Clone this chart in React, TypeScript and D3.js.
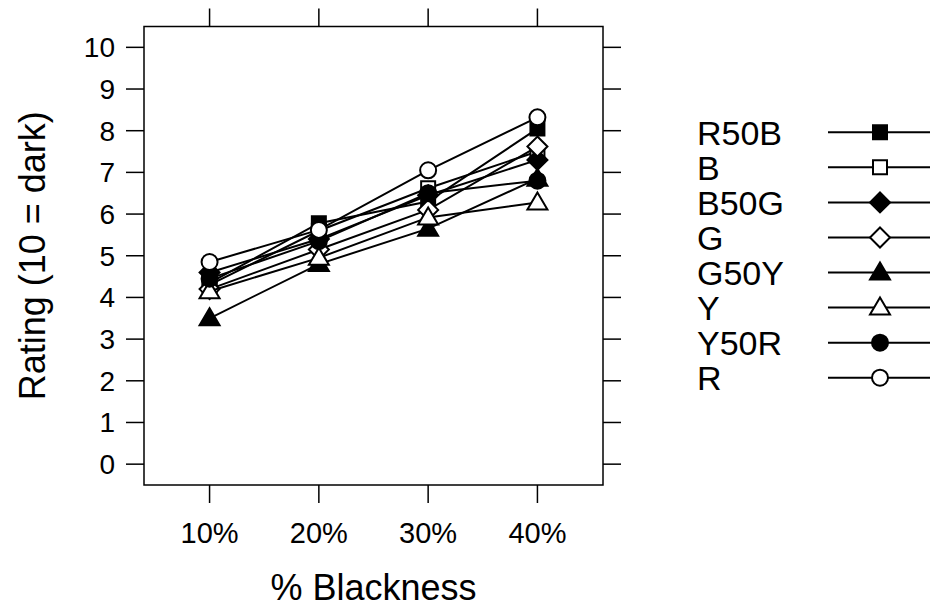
import React, { useEffect, useRef } from 'react';
import * as d3 from 'd3';

const categories = ['10%', '20%', '30%', '40%'];
const yTicks = [0, 1, 2, 3, 4, 5, 6, 7, 8, 9, 10];

const seriesNames = ['R50B', 'B', 'B50G', 'G', 'G50Y', 'Y', 'Y50R', 'R'];
const R50B = [4.35, 5.78, 6.3, 8.05];
const B = [4.3, 5.6, 6.62, 7.5];
const B50G = [4.6, 5.4, 6.45, 7.3];
const G = [4.2, 5.15, 6.1, 7.62];
const G50Y = [3.5, 4.8, 5.65, 6.85];
const Y = [4.15, 4.95, 5.92, 6.28];
const Y50R = [4.45, 5.35, 6.5, 6.8];
const R = [4.85, 5.62, 7.05, 8.32];
const seriesValues = [R50B, B, B50G, G, G50Y, Y, Y50R, R];
const shapes = ['square', 'square', 'diamond', 'diamond', 'triangle', 'triangle', 'circle', 'circle'];
const filled = [true, false, true, false, true, false, true, false];

const symbolPath = (shape: string) => {
    if (shape === 'square') return 'M-7,-7H7V7H-7Z';
    if (shape === 'diamond') return 'M0,-10L10,0L0,10L-10,0Z';
    if (shape === 'triangle') return 'M0,-10L10,7L-10,7Z';
    return d3.arc()({ innerRadius: 0, outerRadius: 8, startAngle: 0, endAngle: 2 * Math.PI } as any) as string;
};

const App = () => {
    const ref = useRef<SVGSVGElement>(null);
    useEffect(() => {
        const svg = d3.select(ref.current);
        svg.selectAll('*').remove();
        const box = { left: 144, right: 603, top: 26.5, bottom: 485 };
        const font = 'Liberation Sans, Arial, sans-serif';

        const x = d3.scaleLinear().domain([0.4, 4.6]).range([box.left, box.right]);
        const y = d3.scaleLinear().domain([-0.5, 10.5]).range([box.bottom, box.top]);
        const tick = 18;

        // ticks
        const g = svg.append('g').attr('stroke', '#000').attr('stroke-width', 1.5);
        categories.forEach((c, i) => {
            g.append('line').attr('x1', x(i + 1)).attr('x2', x(i + 1)).attr('y1', box.bottom).attr('y2', box.bottom + tick);
            g.append('line').attr('x1', x(i + 1)).attr('x2', x(i + 1)).attr('y1', box.top).attr('y2', box.top - tick);
        });
        yTicks.forEach(v => {
            g.append('line').attr('x1', box.left).attr('x2', box.left - tick).attr('y1', y(v)).attr('y2', y(v));
            g.append('line').attr('x1', box.right).attr('x2', box.right + tick).attr('y1', y(v)).attr('y2', y(v));
        });
        g.append('rect')
            .attr('x', box.left).attr('y', box.top)
            .attr('width', box.right - box.left).attr('height', box.bottom - box.top)
            .attr('fill', 'none');

        // tick labels
        svg.append('g').selectAll('text').data(categories).join('text')
            .attr('x', (d, i) => x(i + 1)).attr('y', 543)
            .attr('text-anchor', 'middle')
            .attr('font-family', font).attr('font-size', 29)
            .text(d => d);
        svg.append('g').selectAll('text').data(yTicks).join('text')
            .attr('x', 115).attr('y', d => y(d) + 10)
            .attr('text-anchor', 'end')
            .attr('font-family', font).attr('font-size', 28)
            .text(d => d);

        // axis titles
        svg.append('text')
            .attr('x', (box.left + box.right) / 2).attr('y', 600)
            .attr('text-anchor', 'middle')
            .attr('font-family', font).attr('font-size', 36)
            .text('% Blackness');
        svg.append('text')
            .attr('transform', `translate(45, ${(box.top + box.bottom) / 2}) rotate(-90)`)
            .attr('text-anchor', 'middle')
            .attr('font-family', font).attr('font-size', 36)
            .text('Rating (10 = dark)');

        // series
        const line = d3.line<number>().x((d, i) => x(i + 1)).y(d => y(d));
        seriesValues.forEach((vals, s) => {
            const sg = svg.append('g');
            sg.append('path').attr('d', line(vals)).attr('fill', 'none').attr('stroke', '#000').attr('stroke-width', 2);
            sg.selectAll('path.pt').data(vals).join('path')
                .attr('class', 'pt')
                .attr('transform', (d, i) => `translate(${x(i + 1)},${y(d)})`)
                .attr('d', symbolPath(shapes[s]))
                .attr('fill', filled[s] ? '#000' : '#fff')
                .attr('stroke', '#000').attr('stroke-width', 2);
        });

        // legend
        const ly = d3.scalePoint().domain(seriesNames).range([132.3, 377.7]);
        const lg = svg.append('g');
        seriesNames.forEach((n, s) => {
            lg.append('text')
                .attr('x', 697).attr('y', ly(n)! + 12.5)
                .attr('font-family', font).attr('font-size', 34)
                .text(n);
            lg.append('line').attr('x1', 828).attr('x2', 930).attr('y1', ly(n)!).attr('y2', ly(n)!)
                .attr('stroke', '#000').attr('stroke-width', 2);
            lg.append('path')
                .attr('transform', `translate(880,${ly(n)})`)
                .attr('d', symbolPath(shapes[s]))
                .attr('fill', filled[s] ? '#000' : '#fff')
                .attr('stroke', '#000').attr('stroke-width', 2);
        });
    }, []);
    return (
        <svg ref={ref} width={930} height={609} style={{ position: 'absolute', left: 0, top: 0 }} />
    );
};

export default App;
